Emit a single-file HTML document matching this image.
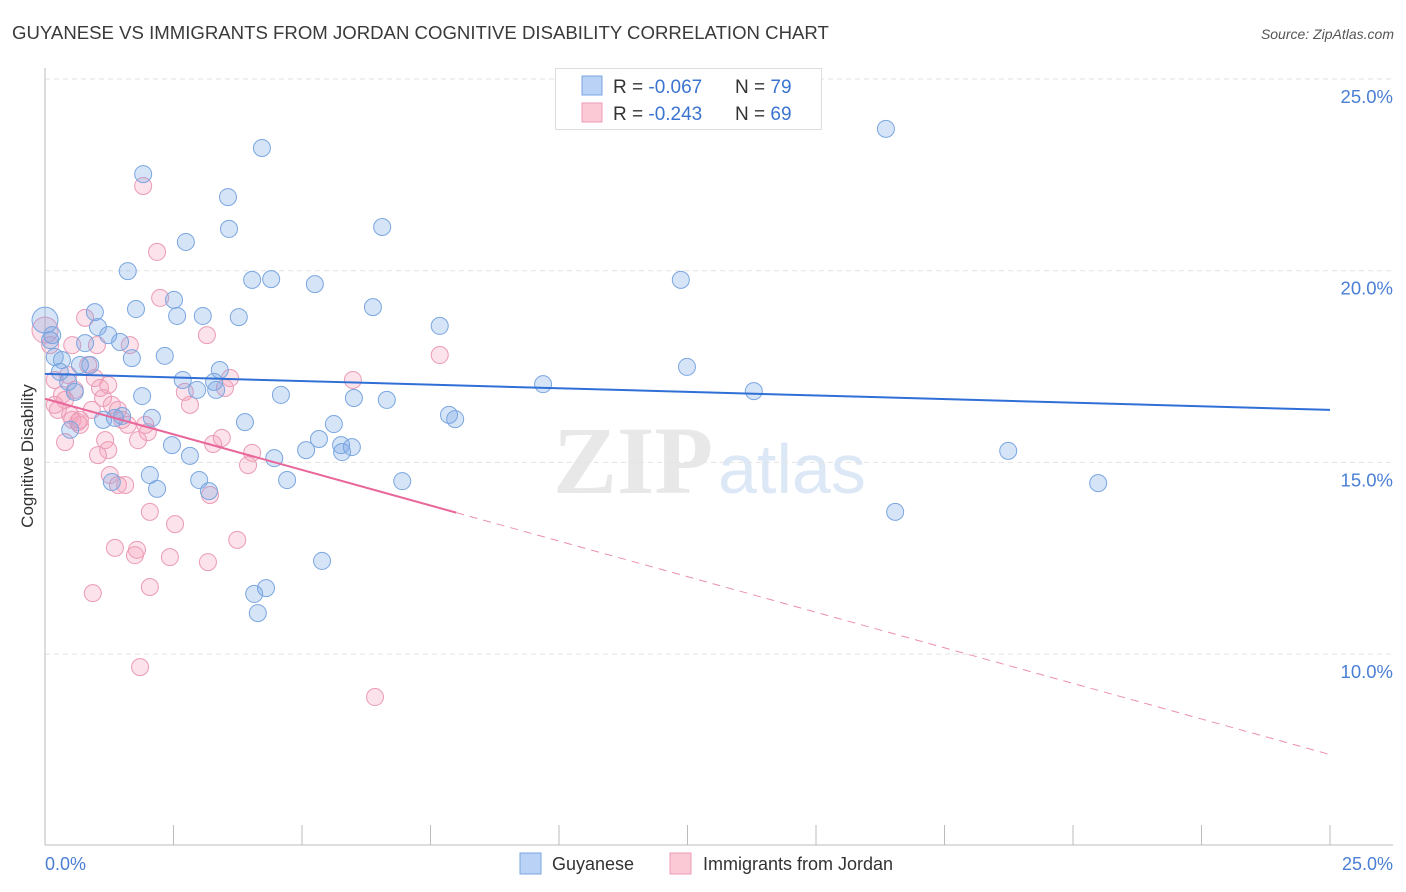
<!DOCTYPE html>
<html><head><meta charset="utf-8">
<style>
body{margin:0;background:#fff;font-family:"Liberation Sans",sans-serif;}
svg{display:block}
</style></head>
<body>
<svg id="chart" width="1406" height="892" viewBox="0 0 1406 892" xmlns="http://www.w3.org/2000/svg">
<text x="12" y="39" font-size="18.6" fill="#3a3a3a">GUYANESE VS IMMIGRANTS FROM JORDAN COGNITIVE DISABILITY CORRELATION CHART</text>
<text x="1394" y="39" font-size="14" fill="#555" font-style="italic" text-anchor="end">Source: ZipAtlas.com</text>
<g>
<text x="553" y="493" font-size="96" font-family="Liberation Serif" fill="#e8e8e8" font-weight="bold">ZIP</text>
<text x="718" y="493" font-size="70" fill="#dde8f7">atlas</text>
</g>
<g id="grid"></g>
<line x1="45" y1="68" x2="45" y2="845" stroke="#bbb"/>
<line x1="45" y1="845" x2="1393" y2="845" stroke="#bbb"/>
<g id="xticks"></g>
<g id="ylabels"></g>
<text x="45" y="870" font-size="18" fill="#4a7fd4">0.0%</text>
<text x="1393" y="870" font-size="18" fill="#4a7fd4" text-anchor="end">25.0%</text>
<text transform="translate(33,456) rotate(-90)" font-size="17" fill="#333" text-anchor="middle">Cognitive Disability</text>
<g id="pinkpts"></g>
<g id="bluepts"></g>
<g id="lines"></g>
<g>
<rect x="555.5" y="68.5" width="266" height="61" fill="#fff" stroke="#ddd"/>
<rect x="582" y="76" width="20" height="19" fill="#b9d2f5" stroke="#7aa6e0"/>
<rect x="582" y="103" width="20" height="19" fill="#fbc8d6" stroke="#eb9bb6"/>
<text x="613" y="93" font-size="19" fill="#333">R = <tspan fill="#3b74d0">-0.067</tspan><tspan x="735">N = </tspan><tspan fill="#3b74d0">79</tspan></text>
<text x="613" y="120" font-size="19" fill="#333">R = <tspan fill="#3b74d0">-0.243</tspan><tspan x="735">N = </tspan><tspan fill="#3b74d0">69</tspan></text>
</g>
<g>
<rect x="520" y="853" width="21" height="21" fill="#b9d2f5" stroke="#7aa6e0"/>
<text x="552" y="870" font-size="18" fill="#333">Guyanese</text>
<rect x="670" y="853" width="21" height="21" fill="#fbc8d6" stroke="#eb9bb6"/>
<text x="703" y="870" font-size="18" fill="#333">Immigrants from Jordan</text>
</g>
</svg>
<script>
const yTicks=[10,15,20,25];
const yTickLabels=["10.0%","15.0%","20.0%","25.0%"];
const xTickCount=10;
const blueX=[0,0.14,0.19,0.29,0.45,0.58,0.49,0.78,0.97,1.03,1.23,1.46,1.13,1.36,1.5,1.69,1.61,1.91,1.77,1.89,2.08,2.04,2.18,2.33,2.51,2.57,2.68,2.82,2.74,2.47,2.96,3.07,3.29,3.33,3.4,3.0,3.19,3.56,3.58,3.77,3.89,4.03,4.22,4.4,4.59,4.46,4.71,5.08,5.25,5.33,5.62,5.78,5.76,5.97,6.01,6.38,6.56,6.65,6.95,7.68,7.86,7.98,5.39,4.3,4.07,4.14,9.69,12.37,12.49,13.79,16.36,16.54,18.74,20.49,1.3,0.1,0.33,0.68,0.88];
const blueY=[18.71,18.32,17.75,17.36,17.1,16.84,15.85,18.11,18.92,18.53,18.32,18.14,16.11,16.16,16.21,17.72,19.99,22.52,19.0,16.73,16.16,14.67,14.31,17.78,19.24,18.82,17.15,15.17,20.75,15.45,16.89,18.82,17.1,16.89,17.41,14.54,14.25,21.92,21.09,18.79,16.05,19.76,23.2,19.78,16.76,15.11,14.54,15.32,19.65,15.61,16.0,15.27,15.45,15.4,16.68,19.05,21.14,16.63,14.51,18.56,16.24,16.13,12.43,11.72,11.57,11.07,17.04,19.76,17.49,16.86,23.7,13.71,15.3,14.46,14.49,18.19,17.67,17.54,17.54];
const pinkX=[0,0.1,0.19,0.25,0.33,0.39,0.45,0.49,0.53,0.58,0.64,0.68,0.78,0.84,0.91,0.97,1.01,1.07,1.13,1.17,1.23,1.26,1.3,1.36,1.42,1.5,1.56,1.65,1.75,1.79,1.85,1.91,1.95,2.0,2.04,2.04,2.18,2.24,2.43,2.53,2.72,2.82,3.15,3.21,3.27,3.17,3.44,3.5,3.6,3.74,3.95,4.03,5.99,6.42,7.68,0.93,0.39,1.03,0.19,0.53,1.42,1.61,0.68,1.81,1.23];
const pinkY=[18.45,18.06,17.15,16.37,16.76,16.63,17.28,16.24,16.11,16.89,16.05,15.98,18.77,17.54,16.37,17.2,18.06,16.94,16.68,15.58,15.32,14.67,16.5,12.77,14.41,16.11,14.41,18.06,12.58,12.72,9.66,22.21,15.98,15.79,13.71,11.75,20.49,19.29,12.53,13.39,16.84,16.5,18.32,14.15,15.48,12.4,15.64,16.94,17.2,12.98,14.93,15.25,17.15,8.88,17.8,11.59,15.53,15.19,16.5,18.06,16.37,15.98,16.11,15.58,17.02];
const blueTrend=[17.31,16.37];
const pinkTrend=[16.66,7.38];
const pinkSolidEnd=8.0;
const NS="http://www.w3.org/2000/svg";
function sx(v){return 45+v/25*1285;}
function sy(v){return 79+(25-v)/5*191.7;}
function mk(tag,attrs,parent){const e=document.createElementNS(NS,tag);for(const k in attrs)e.setAttribute(k,attrs[k]);parent.appendChild(e);return e;}
const grid=document.getElementById('grid'),yl=document.getElementById('ylabels'),xt=document.getElementById('xticks');
yTicks.forEach((t,i)=>{
 const l=mk('line',{x1:45,x2:1393,y1:sy(t),y2:sy(t),stroke:'#e2e2e2','stroke-dasharray':'5,4'},grid);
 
 
 const tx=mk('text',{x:1393,y:sy(t)+24,'font-size':18.5,fill:'#4a7fd4','text-anchor':'end'},yl);
 tx.textContent=yTickLabels[i];
 
 
});
for(let i=1;i<=xTickCount;i++){
 const x=sx(i*25/xTickCount);
 const l=mk('line',{x1:x,x2:x,y1:825,y2:845,stroke:'#bbb'},xt);
 
 
}
function pts(X,Y,g,fill,stroke,name){
 X.forEach((x,i)=>{
  const r=(i===0)?13:8.5;
  const c=mk('circle',{cx:sx(x),cy:sy(Y[i]),r:r,fill:fill,stroke:stroke,'stroke-width':1},g);
  
  
 });
}
pts(pinkX,pinkY,document.getElementById('pinkpts'),'rgba(245,160,185,0.3)','#eb9bb6','jordan-point');
pts(blueX,blueY,document.getElementById('bluepts'),'rgba(120,165,230,0.3)','#7aa6e0','guyanese-point');
const lg=document.getElementById('lines');
const bl=mk('line',{x1:sx(0),y1:sy(blueTrend[0]),x2:sx(25),y2:sy(blueTrend[1]),stroke:'#2f6fd6','stroke-width':2},lg);


const pAt=x=>pinkTrend[0]+(pinkTrend[1]-pinkTrend[0])*x/25;
const pl=mk('line',{x1:sx(0),y1:sy(pAt(0)),x2:sx(pinkSolidEnd),y2:sy(pAt(pinkSolidEnd)),stroke:'#e8669a','stroke-width':2},lg);


const pd=mk('line',{x1:sx(pinkSolidEnd),y1:sy(pAt(pinkSolidEnd)),x2:sx(25),y2:sy(pAt(25)),stroke:'#eb8fb0','stroke-width':1,'stroke-dasharray':'8,6'},lg);


</script>
</body></html>
